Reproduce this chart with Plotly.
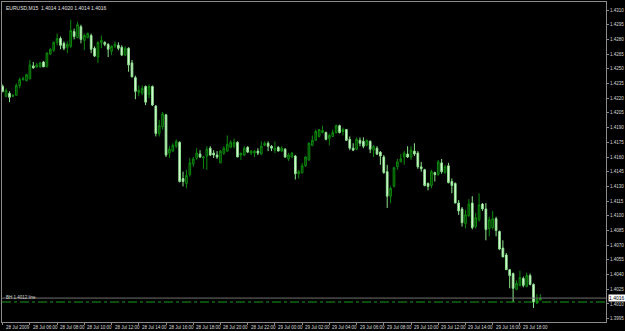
import pandas as pd
import plotly.graph_objects as go

symbol_title = "EURUSD,M15  1.4014 1.4020 1.4014 1.4016"
start_time = "2009-07-28 04:00"

opens = [1.4232,1.4222,1.4225,1.4222,1.4223,1.4233,1.4239,1.4238,1.4240,1.4253,
         1.4252,1.4252,1.4257,1.4252,1.4265,1.4269,1.4277,1.4281,1.4276,1.4272,
         1.4273,1.4288,1.4282,1.4293,1.4279,1.4282,1.4284,1.4271,1.4262,1.4277,
         1.4277,1.4275,1.4268,1.4273,1.4274,1.4272,1.4264,1.4271,1.4256,1.4241,
         1.4226,1.4225,1.4232,1.4224,1.4232,1.4212,1.4184,1.4191,1.4203,1.4164,
         1.4166,1.4171,1.4175,1.4138,1.4133,1.4142,1.4153,1.4159,1.4163,1.4159,
         1.4161,1.4169,1.4164,1.4162,1.4154,1.4164,1.4166,1.4170,1.4171,1.4175,
         1.4162,1.4162,1.4170,1.4164,1.4164,1.4166,1.4163,1.4172,1.4174,1.4171,
         1.4167,1.4170,1.4166,1.4168,1.4158,1.4160,1.4161,1.4143,1.4144,1.4151,
         1.4157,1.4172,1.4177,1.4181,1.4185,1.4185,1.4179,1.4181,1.4185,1.4192,
         1.4186,1.4188,1.4178,1.4169,1.4168,1.4177,1.4176,1.4172,1.4176,1.4167,
         1.4169,1.4165,1.4160,1.4145,1.4120,1.4130,1.4150,1.4155,1.4160,1.4163,
         1.4160,1.4166,1.4164,1.4150,1.4147,1.4133,1.4131,1.4144,1.4142,1.4154,
         1.4144,1.4151,1.4135,1.4133,1.4113,1.4107,1.4092,1.4100,1.4113,1.4089,
         1.4096,1.4112,1.4107,1.4087,1.4088,1.4097,1.4084,1.4067,1.4060,1.4045,
         1.4041,1.4025,1.4029,1.4036,1.4028,1.4039,1.4030,1.4011,1.4014]
highs = [1.4234,1.4230,1.4227,1.4224,1.4235,1.4241,1.4242,1.4245,1.4259,1.4257,
         1.4256,1.4257,1.4258,1.4267,1.4271,1.4278,1.4286,1.4283,1.4278,1.4278,
         1.4300,1.4291,1.4298,1.4295,1.4286,1.4287,1.4286,1.4273,1.4278,1.4284,
         1.4278,1.4276,1.4274,1.4278,1.4277,1.4274,1.4273,1.4272,1.4259,1.4243,
         1.4233,1.4233,1.4233,1.4234,1.4233,1.4213,1.4198,1.4206,1.4204,1.4171,
         1.4174,1.4178,1.4176,1.4145,1.4147,1.4159,1.4160,1.4169,1.4167,1.4161,
         1.4171,1.4171,1.4167,1.4166,1.4167,1.4171,1.4182,1.4177,1.4179,1.4176,
         1.4164,1.4171,1.4171,1.4167,1.4167,1.4169,1.4176,1.4176,1.4176,1.4172,
         1.4176,1.4171,1.4171,1.4169,1.4164,1.4165,1.4162,1.4147,1.4154,1.4161,
         1.4175,1.4182,1.4188,1.4188,1.4192,1.4186,1.4184,1.4188,1.4193,1.4193,
         1.4190,1.4188,1.4181,1.4174,1.4180,1.4180,1.4180,1.4178,1.4177,1.4172,
         1.4171,1.4166,1.4162,1.4152,1.4130,1.4150,1.4158,1.4163,1.4166,1.4171,
         1.4171,1.4174,1.4166,1.4155,1.4148,1.4134,1.4147,1.4145,1.4157,1.4158,
         1.4152,1.4154,1.4138,1.4134,1.4116,1.4109,1.4106,1.4117,1.4120,1.4103,
         1.4123,1.4113,1.4113,1.4099,1.4105,1.4099,1.4085,1.4075,1.4062,1.4045,
         1.4042,1.4034,1.4044,1.4038,1.4042,1.4041,1.4031,1.4020,1.4020]
lows = [1.4226,1.4221,1.4216,1.4221,1.4223,1.4230,1.4238,1.4237,1.4239,1.4250,
        1.4251,1.4251,1.4252,1.4252,1.4264,1.4267,1.4274,1.4270,1.4269,1.4266,
        1.4271,1.4280,1.4281,1.4276,1.4269,1.4281,1.4266,1.4262,1.4256,1.4271,
        1.4273,1.4262,1.4264,1.4271,1.4269,1.4263,1.4263,1.4247,1.4241,1.4219,
        1.4222,1.4223,1.4213,1.4220,1.4212,1.4181,1.4181,1.4188,1.4160,1.4159,
        1.4165,1.4169,1.4134,1.4130,1.4128,1.4140,1.4150,1.4157,1.4159,1.4148,
        1.4147,1.4161,1.4159,1.4158,1.4154,1.4162,1.4165,1.4169,1.4169,1.4160,
        1.4157,1.4161,1.4164,1.4162,1.4160,1.4162,1.4162,1.4171,1.4166,1.4166,
        1.4164,1.4166,1.4165,1.4159,1.4156,1.4159,1.4137,1.4138,1.4143,1.4150,
        1.4156,1.4171,1.4177,1.4180,1.4184,1.4177,1.4172,1.4181,1.4184,1.4184,
        1.4182,1.4177,1.4167,1.4166,1.4167,1.4171,1.4169,1.4171,1.4164,1.4160,
        1.4162,1.4152,1.4143,1.4108,1.4113,1.4129,1.4147,1.4155,1.4152,1.4159,
        1.4157,1.4161,1.4148,1.4145,1.4130,1.4126,1.4128,1.4135,1.4141,1.4143,
        1.4143,1.4133,1.4123,1.4113,1.4101,1.4089,1.4087,1.4099,1.4086,1.4087,
        1.4094,1.4105,1.4075,1.4079,1.4086,1.4079,1.4065,1.4058,1.4045,1.4026,
        1.4012,1.4024,1.4028,1.4027,1.4027,1.4029,1.4006,1.4010,1.4014]
closes = [1.4227,1.4228,1.4221,1.4223,1.4233,1.4239,1.4240,1.4244,1.4254,1.4251,
          1.4254,1.4256,1.4252,1.4266,1.4270,1.4277,1.4281,1.4274,1.4271,1.4275,
          1.4289,1.4283,1.4295,1.4280,1.4284,1.4286,1.4270,1.4263,1.4277,1.4279,
          1.4275,1.4270,1.4273,1.4275,1.4271,1.4264,1.4271,1.4254,1.4242,1.4227,
          1.4228,1.4230,1.4216,1.4232,1.4213,1.4184,1.4192,1.4204,1.4162,1.4168,
          1.4172,1.4176,1.4135,1.4135,1.4141,1.4154,1.4158,1.4164,1.4160,1.4160,
          1.4168,1.4162,1.4162,1.4160,1.4166,1.4169,1.4173,1.4175,1.4175,1.4160,
          1.4164,1.4169,1.4165,1.4166,1.4166,1.4164,1.4171,1.4174,1.4171,1.4169,
          1.4169,1.4166,1.4169,1.4160,1.4162,1.4164,1.4143,1.4145,1.4151,1.4160,
          1.4174,1.4177,1.4186,1.4188,1.4187,1.4178,1.4182,1.4185,1.4192,1.4185,
          1.4188,1.4177,1.4169,1.4167,1.4178,1.4174,1.4171,1.4177,1.4168,1.4171,
          1.4163,1.4161,1.4144,1.4120,1.4128,1.4149,1.4155,1.4158,1.4164,1.4160,
          1.4167,1.4163,1.4150,1.4148,1.4131,1.4130,1.4145,1.4142,1.4155,1.4145,
          1.4150,1.4134,1.4131,1.4113,1.4105,1.4093,1.4101,1.4112,1.4088,1.4098,
          1.4111,1.4107,1.4086,1.4096,1.4097,1.4085,1.4066,1.4058,1.4045,1.4039,
          1.4026,1.4031,1.4037,1.4029,1.4039,1.4030,1.4012,1.4015,1.4016]

price_ticks = [1.3995,1.4010,1.4025,1.4040,1.4055,1.4070,1.4085,1.4100,1.4115,1.4130,
               1.4145,1.4160,1.4175,1.4190,1.4205,1.4220,1.4235,1.4250,1.4265,1.4280,
               1.4295,1.4310]
time_tick_labels = ["28 Jul 2009","28 Jul 06:00","28 Jul 08:00","28 Jul 10:00","28 Jul 12:00",
                    "28 Jul 14:00","28 Jul 16:00","28 Jul 18:00","28 Jul 20:00","28 Jul 22:00",
                    "29 Jul 00:00","29 Jul 02:00","29 Jul 04:00","29 Jul 06:00","29 Jul 08:00",
                    "29 Jul 10:00","29 Jul 12:00","29 Jul 14:00","29 Jul 16:00","29 Jul 18:00"]
bid_price = 1.4016
hline_price = 1.4012
hline_label = "BH 1.4012 line"

bar = pd.Timedelta(minutes=15)
times = pd.date_range(start_time, periods=len(opens), freq="15min")
tick_times = pd.date_range(start_time, periods=len(time_tick_labels), freq="2h")

fig = go.Figure()
fig.add_trace(go.Candlestick(
    x=times, open=opens, high=highs, low=lows, close=closes,
    increasing=dict(line=dict(color="#0b8a0b", width=1), fillcolor="#022a02"),
    decreasing=dict(line=dict(color="#8ee48e", width=1), fillcolor="#f4fff4"),
    whiskerwidth=0, showlegend=False, hoverinfo="skip"))

FONT = "Liberation Sans Narrow, Liberation Sans, Arial"
GRAY = "#8a8a8a"

fig.add_hline(y=bid_price, line=dict(color="#707070", width=1))
fig.add_hline(y=hline_price, line=dict(color="#1a9a1a", width=1, dash="dashdot"))

ann = []
ann.append(dict(x=0, y=1, xref="paper", yref="paper", xanchor="left", yanchor="top",
                xshift=2, yshift=-1, text=symbol_title, showarrow=False,
                font=dict(family=FONT, size=5, color="#e0e0e0")))
ann.append(dict(x=0, y=hline_price, xref="paper", yref="y", xanchor="left", yanchor="bottom",
                xshift=2, yshift=0, text=hline_label, showarrow=False,
                font=dict(family=FONT, size=4.5, color="#d0d0d0")))
ann.append(dict(x=1, y=bid_price, xref="paper", yref="y", xanchor="left", yanchor="middle",
                xshift=2, text="%.4f" % bid_price, showarrow=False, bgcolor="#ffffff",
                borderpad=0, font=dict(family=FONT, size=5, color="#000000")))
for t, lab in zip(tick_times, time_tick_labels):
    ann.append(dict(x=t, y=0, xref="x", yref="paper", xanchor="left", yanchor="top",
                    xshift=1, yshift=-1, text=lab, showarrow=False,
                    font=dict(family=FONT, size=4.5, color="#d8d8d8")))

fig.update_layout(
    width=625, height=331,
    margin=dict(l=1, r=17, t=2, b=9),
    paper_bgcolor="#000000", plot_bgcolor="#000000",
    annotations=ann,
    xaxis=dict(type="date", range=[times[0] - 0.2 * bar, times[0] + 177.3 * bar],
               rangeslider=dict(visible=False), showgrid=False, zeroline=False,
               showline=True, linecolor=GRAY, linewidth=1, mirror=True,
               tickvals=list(tick_times), showticklabels=False,
               ticks="outside", ticklen=2, tickcolor=GRAY),
    yaxis=dict(side="right", range=[1.39916, 1.43182], showgrid=False, zeroline=False,
               showline=True, linecolor=GRAY, linewidth=1, mirror=True,
               tickvals=price_ticks, ticktext=["%.4f" % v for v in price_ticks],
               ticks="outside", ticklen=2, tickcolor=GRAY,
               tickfont=dict(family=FONT, size=4.5, color="#d8d8d8")),
)

fig.write_html("out.html")
